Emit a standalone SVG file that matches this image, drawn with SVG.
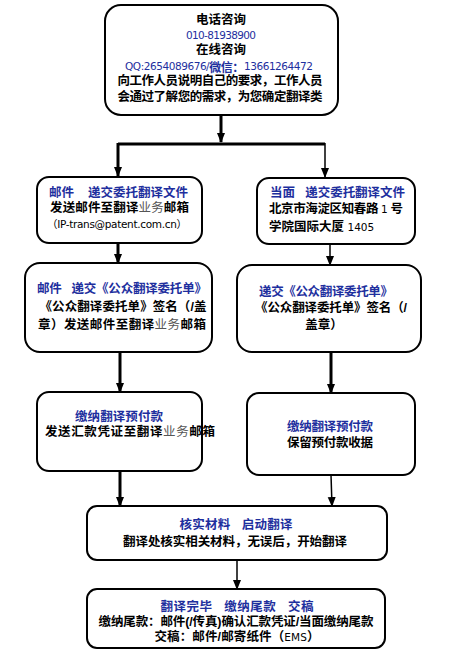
<svg xmlns="http://www.w3.org/2000/svg" width="461" height="652" viewBox="0 0 461 652">
<defs>
<marker id="arr" markerUnits="userSpaceOnUse" markerWidth="10" markerHeight="10" viewBox="0 0 10 10" refX="9" refY="5" orient="auto">
<path d="M0,1 L10,5 L0,9 Z" fill="#000"/>
</marker>
<style>
.box{fill:#fff;stroke:#000;stroke-width:2}
text{font-family:"Liberation Sans","Noto Sans CJK SC",sans-serif;font-weight:bold;font-size:12.5px;fill:#000;dominant-baseline:central}
.c{text-anchor:middle}
.b{fill:#1e2f9e}
.n{font-family:"DejaVu Sans","Noto Sans CJK SC",sans-serif;font-weight:normal;font-size:10.5px}
.g{fill:#555;font-weight:normal}
.lat{font-family:"DejaVu Sans",sans-serif;font-weight:normal;font-size:10.5px}
.conn{fill:none;stroke:#000;stroke-width:3}
.thin{fill:none;stroke:#000;stroke-width:1.5}
</style>
</defs>
<rect width="461" height="652" fill="#fff"/>
<g id="connectors">
<path class="conn" d="M221,115 V142" marker-end="url(#arr)"/>
<path class="conn" d="M118,144 H325"/>
<path class="conn" d="M118,143 V176" marker-end="url(#arr)"/>
<path class="thin" d="M325,143 V177" marker-end="url(#arr)"/>
<path class="conn" d="M118,243 V263" marker-end="url(#arr)"/>
<path class="thin" d="M330,244 V265" marker-end="url(#arr)"/>
<path class="conn" d="M120,352 V392" marker-end="url(#arr)"/>
<path class="conn" d="M331,352 V393" marker-end="url(#arr)"/>
<path class="conn" d="M120,471 V506" marker-end="url(#arr)"/>
<path class="thin" d="M331,475 L332,506" marker-end="url(#arr)"/>
<path class="thin" d="M237,560 V589" marker-end="url(#arr)"/>
</g>
<g id="n1">
<rect class="box" x="105" y="5" width="233" height="110" rx="16"/>
<text class="c" x="221" y="20" style="font-size:12.5px">电话咨询</text>
<text class="c b n" x="221" y="35" textLength="70">010-81938900</text>
<text class="c" x="221" y="49.5" style="font-size:12.5px">在线咨询</text>
<text class="c b n" x="219" y="65.5" textLength="188">QQ:2654089676/<tspan style="font-weight:bold;font-size:12px;font-family:'Noto Sans CJK SC',sans-serif">微信：</tspan>13661264472</text>
<text class="c" x="220" y="81" textLength="205">向工作人员说明自己的要求，工作人员</text>
<text class="c" x="220" y="97" textLength="205">会通过了解您的需求，为您确定翻译类</text>
</g>
<g id="n2">
<rect class="box" x="37" y="177" width="165" height="66" rx="12"/>
<text class="c b" x="118.5" y="193" textLength="139" xml:space="preserve">邮件    递交委托翻译文件</text>
<text class="c" x="119.5" y="208" textLength="139">发送邮件至翻译<tspan class="g">业务</tspan>邮箱</text>
<text class="c n" x="117" y="224" textLength="140">（IP-trans@patent.com.cn）</text>
</g>
<g id="n3">
<rect class="box" x="257" y="178" width="158" height="66" rx="12"/>
<text class="b" x="270" y="193" textLength="135" xml:space="preserve">当面   递交委托翻译文件</text>
<text x="269" y="209" textLength="134">北京市海淀区知春路 <tspan class="lat">1</tspan> 号</text>
<text x="269" y="227">学院国际大厦 <tspan class="lat">1405</tspan></text>
</g>
<g id="n4">
<rect class="box" x="25" y="263" width="187" height="89" rx="15"/>
<text class="c b" x="122" y="289" textLength="170" xml:space="preserve">邮件   递交《公众翻译委托单》</text>
<text class="c" x="123" y="307" textLength="167">《公众翻译委托单》签名（/盖</text>
<text class="c" x="122" y="325" textLength="168">章）发送邮件至翻译<tspan class="g">业务</tspan>邮箱</text>
</g>
<g id="n5">
<rect class="box" x="237" y="265" width="184" height="87" rx="15"/>
<text class="c b" x="326" y="292" textLength="134">递交《公众翻译委托单》</text>
<text class="c" x="331" y="308" textLength="152">《公众翻译委托单》签名（/</text>
<text class="c" x="324" y="325">盖章）</text>
</g>
<g id="n6">
<rect class="box" x="37" y="392" width="165" height="79" rx="12"/>
<text class="c b" x="119" y="417" textLength="88">缴纳翻译预付款</text>
<text class="c" x="130" y="432" textLength="170">发送汇款凭证至翻译<tspan class="g">业务</tspan>邮箱</text>
</g>
<g id="n7">
<rect class="box" x="247" y="393" width="168" height="82" rx="12"/>
<text class="c b" x="330" y="427" textLength="86">缴纳翻译预付款</text>
<text class="c" x="330" y="443" textLength="86">保留预付款收据</text>
</g>
<g id="n8">
<rect class="box" x="87" y="506" width="300" height="54" rx="10"/>
<text class="c b" x="236" y="525" textLength="113" xml:space="preserve">核实材料   启动翻译</text>
<text class="c" x="235" y="542" textLength="224">翻译处核实相关材料，无误后，开始翻译</text>
</g>
<g id="n9">
<rect class="box" x="87" y="589" width="298" height="59" rx="10"/>
<text class="c b" x="237" y="607" textLength="153" xml:space="preserve">翻译完毕   缴纳尾款   交稿</text>
<text class="c" x="236" y="622" textLength="275">缴纳尾款：邮件(/传真)确认汇款凭证/当面缴纳尾款</text>
<text class="c" x="237" y="637" textLength="165">交稿：邮件/邮寄纸件（<tspan class="lat">EMS</tspan>）</text>
</g>
</svg>
